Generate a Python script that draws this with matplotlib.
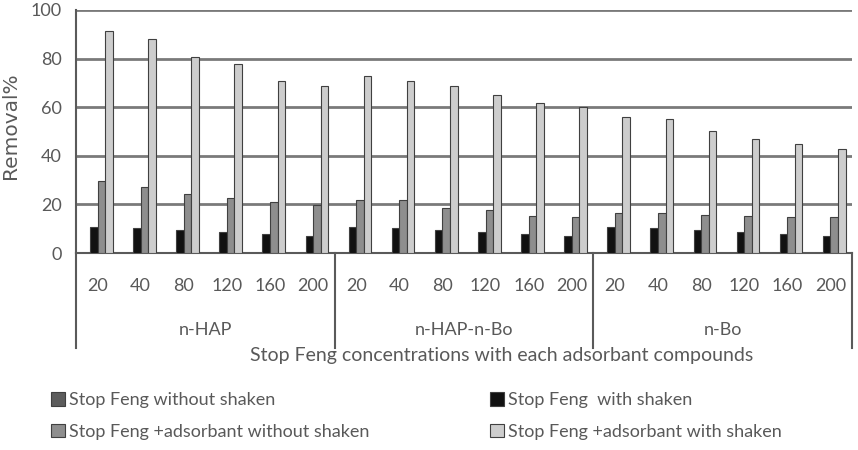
import numpy as np
import matplotlib.pyplot as plt
import matplotlib.transforms as mtransforms

plt.rcParams['font.family'] = ['Lato', 'DejaVu Sans']

# data
groups = ['n-HAP', 'n-HAP-n-Bo', 'n-Bo']
concs = ['20', '40', '80', '120', '160', '200']
without_shaken = [0] * 18
with_shaken = [10.8, 10.1, 9.6, 8.5, 7.9, 7.0,
               10.7, 10.1, 9.6, 8.5, 7.9, 7.0,
               10.7, 10.1, 9.6, 8.5, 7.9, 7.0]
ads_without_shaken = [29.5, 27.0, 24.4, 22.6, 21.0, 19.9,
                      21.9, 21.9, 18.4, 17.5, 15.3, 14.7,
                      16.5, 16.5, 15.8, 15.2, 14.8, 14.8]
ads_with_shaken = [91.5, 88.0, 80.5, 77.8, 70.6, 68.6,
                   72.8, 70.6, 68.6, 64.9, 61.6, 60.1,
                   56.0, 55.1, 50.3, 47.0, 44.9, 42.8]

names = ['Stop Feng without shaken', 'Stop Feng  with shaken',
         'Stop Feng +adsorbant without shaken', 'Stop Feng +adsorbant with shaken']
colors = ['#5c5c5c', '#111111', '#8e8e8e', '#cdcdcd']
series = [without_shaken, with_shaken, ads_without_shaken, ads_with_shaken]

txt = '#595959'
fig = plt.figure(figsize=(8.58, 4.5), dpi=100)
ax = fig.add_axes([76 / 858, 1 - 253 / 450, 776 / 858, 243 / 450])

x = np.arange(18)
w = 0.175
bars = []
for i, (vals, c) in enumerate(zip(series, colors)):
    b = ax.bar(x + (i - 1.5) * w, vals, w, color=c, edgecolor='#404040',
               linewidth=0.8, zorder=3)
    bars.append(b)

ax.set_xlim(-0.5, 17.5)
ax.set_ylim(0, 100)
ax.set_yticks(range(0, 101, 20))
ax.yaxis.grid(True, color='#7a7a7a', linewidth=2, zorder=0)
ax.tick_params(axis='y', length=0, labelsize=13, labelcolor=txt, pad=10)
ax.set_ylabel('Removal%', fontsize=14.5, color=txt, va='center', family='DejaVu Sans')
ax.yaxis.set_label_coords(-0.084, 0.523)
for s in ['top', 'right']:
    ax.spines[s].set_visible(False)
ax.spines['left'].set_color('#5a5a5a')
ax.spines['left'].set_linewidth(1.5)
ax.spines['bottom'].set_color('#5a5a5a')
ax.spines['bottom'].set_linewidth(1.5)

# category axis: concentrations and group labels
ax.set_xticks(x)
ax.set_xticklabels(concs * 3, fontsize=13, color=txt)
ax.tick_params(axis='x', length=0, pad=18)
trans = mtransforms.blended_transform_factory(ax.transData, ax.transAxes)
for xb in [-0.5, 5.5, 11.5, 17.5]:
    ax.plot([xb, xb], [0, -0.39], transform=trans, color='#5a5a5a',
            linewidth=1.5, clip_on=False)
for g, name in enumerate(groups):
    ax.text(g * 6 + 2.5, -0.316, name, transform=trans, ha='center', va='center',
            fontsize=13, color=txt)
fig.text(502 / 858, 1 - 355 / 450, 'Stop Feng concentrations with each adsorbant compounds',
         ha='center', va='center', fontsize=14, color=txt)

leg_kw = dict(loc='upper left', frameon=False, fontsize=13, labelcolor=txt,
              handlelength=0.75, handleheight=0.75, handletextpad=0.25,
              labelspacing=0.85, borderaxespad=0)
leg1 = fig.legend([bars[0], bars[2]], [names[0], names[2]],
                  bbox_to_anchor=(44 / 858, 1 - 385 / 450), **leg_kw)
leg2 = fig.legend([bars[1], bars[3]], [names[1], names[3]],
                  bbox_to_anchor=(483 / 858, 1 - 385 / 450), **leg_kw)

fig.savefig('out.png', dpi=100)
